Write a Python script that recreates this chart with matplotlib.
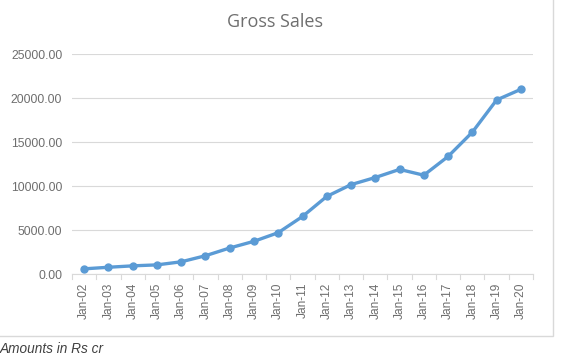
import matplotlib.pyplot as plt
from matplotlib.patches import Rectangle

# данные графика
years = ['Jan-02', 'Jan-03', 'Jan-04', 'Jan-05', 'Jan-06', 'Jan-07', 'Jan-08',
         'Jan-09', 'Jan-10', 'Jan-11', 'Jan-12', 'Jan-13', 'Jan-14', 'Jan-15',
         'Jan-16', 'Jan-17', 'Jan-18', 'Jan-19', 'Jan-20']
gross_sales = [620, 800, 960, 1070, 1420, 2110, 2990, 3750, 4730, 6570, 8850,
               10190, 11000, 11920, 11260, 13390, 16150, 19810, 21020]
y_ticks = [0, 5000, 10000, 15000, 20000, 25000]

fig = plt.figure(figsize=(5.66, 3.6), dpi=100)
ax = fig.add_axes([72 / 566, 1 - 274.3 / 360, (533 - 72) / 566, 220 / 360])

x = list(range(len(years)))
ax.plot(x, gross_sales, color='#5B9BD5', linewidth=2.4, marker='o',
        markersize=5, markeredgecolor='#5B9BD5')

ax.set_xlim(-0.5, len(years) - 0.5)
ax.set_ylim(0, 25000)
ax.set_yticks(y_ticks)
ax.set_yticklabels([f'{v:.2f}' for v in y_ticks], fontsize=8.8,
                   color='#6E6E6E', family='Liberation Sans')
ax.set_xticks(x)
ax.set_xticklabels(years, rotation=90, fontsize=8.6, color='#6E6E6E',
                   family='Liberation Sans')
ax.tick_params(axis='y', length=0, pad=7)
ax.tick_params(axis='x', length=0, pad=6)

# сетка
ax.grid(axis='y', color='#D9D9D9', linewidth=0.8)
ax.set_axisbelow(True)
for s in ['top', 'right', 'left']:
    ax.spines[s].set_visible(False)
ax.spines['bottom'].set_color('#D9D9D9')

# засечки между категориями
for i in range(len(years) + 1):
    ax.plot([i - 0.5, i - 0.5], [0, -500], color='#D9D9D9', linewidth=0.8,
            clip_on=False)

fig.text(275 / 566, 1 - 22 / 360, 'Gross Sales', ha='center', va='center',
         fontsize=13, color='#6E6E6E', family='Open Sans')

# рамка области диаграммы
fig.patches.append(Rectangle((-0.01, 1 - 336 / 360), 553 / 566 + 0.01, 336 / 360 + 0.02,
                             transform=fig.transFigure, fill=False,
                             edgecolor='#D9D9D9', linewidth=1))

fig.text(0, 1 - 349 / 360, 'Amounts in Rs cr', ha='left', va='center',
         fontsize=9.8, style='italic', color='#404040', family='Liberation Sans')

fig.savefig('out.png', dpi=100)
